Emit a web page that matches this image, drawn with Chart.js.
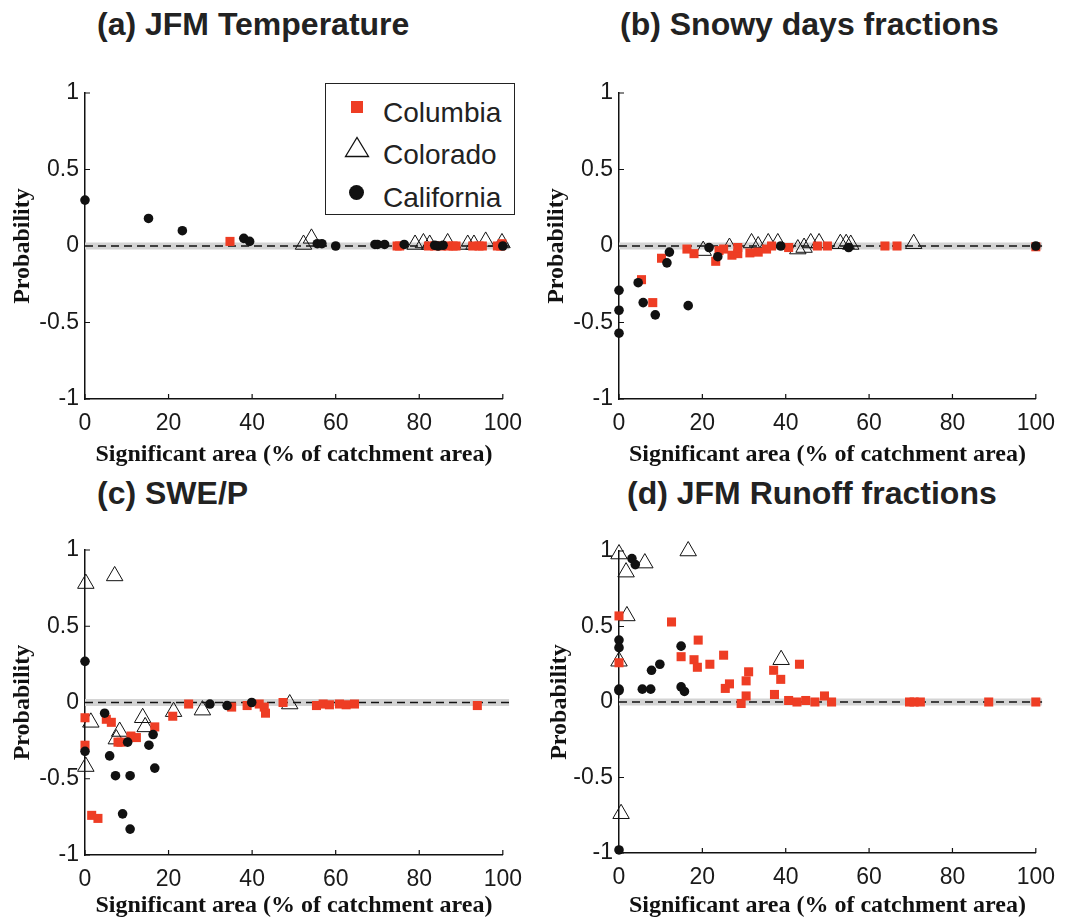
<!DOCTYPE html>
<html>
<head>
<meta charset="utf-8">
<script src="https://cdn.jsdelivr.net/npm/chart.js@4"></script>
<style>
  html, body { margin: 0; padding: 0; background: #fff; overflow: hidden; }
  body { width: 1066px; height: 919px; position: relative; }
  canvas { position: absolute; }
  .title { position: absolute; font: bold 32px "Liberation Sans", Arial, sans-serif; color: #222; line-height: 32px; white-space: nowrap; }
  #legend { position: absolute; left: 325px; top: 83px; width: 188px; height: 130px; border: 1.5px solid #222; background: #fff; }
  #legend .txt { position: absolute; left: 57px; font: 28px "Liberation Sans", Arial, sans-serif; color: #222; line-height: 28px; }
  #legend .sq { position: absolute; left: 25px; top: 17px; width: 12px; height: 12px; background: #ee3d24; }
  #legend .dot { position: absolute; left: 23px; top: 101px; width: 15px; height: 15px; border-radius: 50%; background: #111; }
  #legend svg { position: absolute; left: 18px; top: 52px; }
</style>
</head>
<body>
<div class="title" style="left:97px;top:8px">(a) JFM Temperature</div>
<div class="title" style="left:620px;top:8px">(b) Snowy days fractions</div>
<div class="title" style="left:97px;top:477px">(c) SWE/P</div>
<div class="title" style="left:627px;top:477px">(d) JFM Runoff fractions</div>

<canvas id="pa" style="left:0;top:50px" width="533" height="425"></canvas>
<canvas id="pb" style="left:533px;top:50px" width="533" height="425"></canvas>
<canvas id="pc" style="left:0;top:505px" width="533" height="420"></canvas>
<canvas id="pd" style="left:533px;top:505px" width="533" height="420"></canvas>

<div id="legend">
  <div class="sq"></div><div class="txt" style="top:15px">Columbia</div>
  <svg width="26" height="22"><polygon points="1.5,20.5 24.5,20.5 13,1.5" fill="none" stroke="#111" stroke-width="1.3"/></svg>
  <div class="txt" style="top:57px">Colorado</div>
  <div class="dot"></div><div class="txt" style="top:100px">California</div>
</div>

<script>
// ticks
const xTicks = [0, 20, 40, 60, 80, 100];
const yTicks = [-1, -0.5, 0, 0.5, 1];
const zeroLine = [[0, 0], [101.5, 0]];

// (a) JFM Temperature  [significant area %, probability]
const tempColumbia = [[34.7,0.03],[74.7,0],[75.3,0],[82.2,0],[83.7,0],[85.3,0],[86.9,0],[88.1,0],[88.8,0],[92.8,0],[94.3,0],[95.1,0],[98.7,0],[99.5,0],[99.8,0.015]];
const tempColorado = [[52.3,0.01],[54.2,0.05],[79.0,0.01],[81.0,0.02],[82.5,0.01],[86.8,0.02],[91.6,0.01],[93.1,0.01],[95.9,0.03],[99.8,0.02]];
const tempCalifornia = [[0,0.30],[15.2,0.18],[23.3,0.10],[38.0,0.05],[39.4,0.03],[55.6,0.015],[56.7,0.015],[60.0,0],[69.4,0.01],[70.0,0.01],[71.7,0.01],[76.4,0.01],[83.7,0.005],[84.5,0],[85.7,0.005],[100,0]];

// (b) Snowy days fractions
const snowColumbia = [[5.4,-0.22],[8.1,-0.37],[10.2,-0.08],[16.3,-0.02],[18.0,-0.05],[23.2,-0.10],[24.0,-0.03],[25.1,-0.02],[27.1,-0.06],[28.5,-0.05],[28.5,-0.01],[31.4,-0.045],[33.4,-0.04],[35.4,-0.02],[36.6,0],[40.7,-0.01],[47.6,0],[50.0,0],[63.8,0],[66.7,0],[100,-0.005]];
const snowColorado = [[20.2,-0.03],[26.5,-0.01],[31.8,0.02],[33.4,0],[35.8,0.02],[38.1,0.02],[42.9,-0.02],[44.4,-0.01],[46.0,0.02],[48.0,0.02],[53.1,0.015],[54.5,0.015],[55.6,0.01],[70.7,0.015]];
const snowCalifornia = [[0,-0.29],[0,-0.42],[0,-0.57],[4.6,-0.24],[5.8,-0.37],[8.7,-0.45],[11.5,-0.11],[12.1,-0.04],[16.6,-0.39],[21.6,-0.01],[23.7,-0.07],[38.8,0],[55.1,-0.01],[100,0]];

// (c) SWE/P
const sweColumbia = [[0,-0.10],[0,-0.28],[1.6,-0.74],[3.1,-0.76],[5.1,-0.11],[6.3,-0.13],[7.9,-0.26],[8.6,-0.26],[11.0,-0.22],[12.3,-0.23],[16.7,-0.16],[21.0,-0.09],[24.8,-0.01],[35.1,-0.03],[38.8,-0.02],[41.7,-0.01],[42.9,-0.03],[43.2,-0.07],[47.4,0],[55.4,-0.02],[57.0,-0.01],[58.5,-0.015],[60.9,-0.01],[62.5,-0.015],[64.5,-0.01],[93.9,-0.02]];
const sweColorado = [[0.2,0.78],[7.1,0.83],[1.4,-0.13],[0.2,-0.42],[13.8,-0.10],[14.4,-0.16],[8.3,-0.19],[7.5,-0.24],[21.2,-0.06],[28.1,-0.05],[49.0,-0.01]];
const sweCalifornia = [[0,0.27],[0,-0.32],[4.7,-0.07],[5.9,-0.35],[7.3,-0.48],[9.0,-0.73],[10.2,-0.26],[10.8,-0.48],[10.8,-0.83],[15.3,-0.28],[16.3,-0.21],[16.7,-0.43],[29.9,-0.01],[34.0,-0.02],[39.9,0]];

// (d) JFM Runoff fractions
const runoffColumbia = [[0,0.57],[0,0.26],[12.6,0.53],[14.9,0.30],[18.0,0.28],[19.0,0.41],[18.8,0.23],[21.8,0.25],[25.1,0.31],[25.5,0.09],[26.5,0.12],[29.3,-0.01],[30.5,0.14],[30.5,0.04],[31.1,0.20],[37.1,0.21],[37.3,0.05],[38.8,0.15],[43.3,0.25],[40.7,0.01],[42.7,0],[44.8,0.01],[47.0,0],[49.3,0.04],[51.0,0],[69.7,0],[70.8,0],[72.3,0],[88.7,0],[100,0]];
const runoffColorado = [[0,0.98],[1.7,0.86],[6.2,0.92],[1.9,0.57],[0,0.27],[0.5,-0.74],[16.6,1.0],[38.9,0.28]];
const runoffCalifornia = [[0,-0.98],[0,0.075],[0,0.085],[0,0.41],[0,0.36],[3.1,0.95],[3.9,0.91],[5.6,0.085],[7.6,0.085],[7.8,0.21],[9.8,0.25],[14.9,0.37],[14.9,0.10],[15.7,0.07]];

const toXY = arr => arr.map(p => ({ x: p[0], y: p[1] }));

// small inward tick marks, MATLAB style
const inwardTicks = {
  id: 'inwardTicks',
  beforeDatasetsDraw(chart) {
    const ctx = chart.ctx, xs = chart.scales.x, ys = chart.scales.y;
    const a = chart.chartArea;
    ctx.save();
    ctx.strokeStyle = '#111';
    ctx.lineWidth = 1.2;
    ctx.beginPath();
    xs.ticks.forEach(t => {
      const px = xs.getPixelForValue(t.value);
      ctx.moveTo(px, a.bottom);
      ctx.lineTo(px, a.bottom - 5);
    });
    ys.ticks.forEach(t => {
      const py = ys.getPixelForValue(t.value);
      ctx.moveTo(a.left, py);
      ctx.lineTo(a.left + 5, py);
    });
    ctx.stroke();
    ctx.restore();
  }
};

function makePanel(id, columbia, colorado, california, g) {
  new Chart(document.getElementById(id), {
    type: 'scatter',
    data: {
      datasets: [
        {
          label: 'band', data: toXY(zeroLine), showLine: true, pointRadius: 0,
          borderColor: '#d4d4d4', borderWidth: 7, borderCapStyle: 'butt', clip: false, order: 5
        },
        {
          label: 'zero', data: toXY(zeroLine), showLine: true, pointRadius: 0,
          borderColor: '#111', borderWidth: 1.4, borderDash: [8, 5], clip: false, order: 4
        },
        {
          label: 'Colorado', data: toXY(colorado), pointStyle: 'triangle', pointRadius: 9.5,
          backgroundColor: 'rgba(255,255,255,0)', borderColor: '#111', borderWidth: 1, clip: false, order: 3
        },
        {
          label: 'Columbia', data: toXY(columbia), pointStyle: 'rect', pointRadius: 6.4,
          backgroundColor: '#ee3d24', borderWidth: 0, clip: false, order: 2
        },
        {
          label: 'California', data: toXY(california), pointStyle: 'circle', pointRadius: 4.8,
          backgroundColor: '#111', borderWidth: 0, clip: false, order: 1
        }
      ]
    },
    options: {
      responsive: false,
      animation: false,
      layout: { padding: { top: g.top, right: g.right, left: 0, bottom: 0 } },
      plugins: { legend: { display: false }, tooltip: { enabled: false } },
      scales: {
        x: {
          type: 'linear', min: 0, max: 100,
          afterBuildTicks: s => { s.ticks = xTicks.map(v => ({ value: v })); },
          afterFit: s => { s.height = g.xh; },
          grid: { display: false, drawTicks: false },
          border: { color: '#111', width: 1.5 },
          ticks: { autoSkip: false, maxRotation: 0, padding: 11, color: '#1a1a1a',
                   font: { family: 'Liberation Sans', size: 23 } },
          title: { display: true, text: 'Significant area (% of catchment area)', color: '#111',
                   font: { family: 'Liberation Serif', size: 24, weight: 'bold' },
                   padding: { top: 0, bottom: g.xtp } }
        },
        y: {
          type: 'linear', min: -1, max: 1,
          afterBuildTicks: s => { s.ticks = yTicks.map(v => ({ value: v })); },
          afterFit: s => { s.width = g.yw; },
          grid: { display: false, drawTicks: false },
          border: { color: '#111', width: 1.5 },
          ticks: { padding: 6, color: '#1a1a1a', font: { family: 'Liberation Sans', size: 23 },
                   callback: v => String(v) },
          title: { display: true, text: 'Probability', color: '#111',
                   font: { family: 'Liberation Serif', size: 24, weight: 'bold' },
                   padding: { top: g.ytp, bottom: 0 } }
        }
      }
    },
    plugins: [inwardTicks]
  });
}

makePanel('pa', tempColumbia, tempColorado, tempCalifornia, { top: 43, right: 24, yw: 85, xh: 76, ytp: 8.6, xtp: 5.6 });
makePanel('pb', snowColumbia, snowColorado, snowCalifornia, { top: 43, right: 24, yw: 86, xh: 76, ytp: 9.6, xtp: 5.6 });
makePanel('pc', sweColumbia, sweColorado, sweCalifornia, { top: 45, right: 24, yw: 85, xh: 70, ytp: 8.6, xtp: 4.6 });
makePanel('pd', runoffColumbia, runoffColorado, runoffCalifornia, { top: 46, right: 24, yw: 86, xh: 72, ytp: 12.6, xtp: 4.6 });
</script>
</body>
</html>
